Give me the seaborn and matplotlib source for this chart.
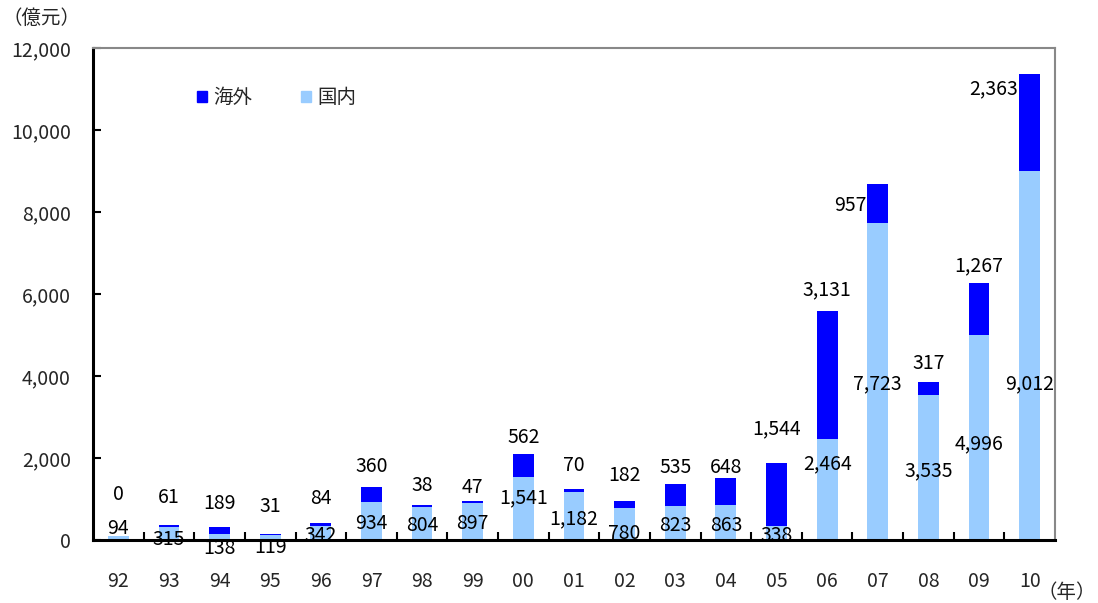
import pandas as pd
import seaborn as sns
import matplotlib.pyplot as plt
from matplotlib.patches import Patch

# データ
years = ["92", "93", "94", "95", "96", "97", "98", "99", "00", "01",
         "02", "03", "04", "05", "06", "07", "08", "09", "10"]
domestic = [94, 315, 138, 119, 342, 934, 804, 897, 1541, 1182,
            780, 823, 863, 338, 2464, 7723, 3535, 4996, 9012]
overseas = [0, 61, 189, 31, 84, 360, 38, 47, 562, 70,
            182, 535, 648, 1544, 3131, 957, 317, 1267, 2363]

# ラベル位置（データ単位、元図の手動配置に合わせる）
label_y_dom = [281, 0, -207, -183, 110, 403, 354, 403, 1037, 525,
               159, 354, 354, 110, 1867, 3819, 1696, 2355, 3819]
label_y_ovs = [1110, 1037, 890, 817, 1012, 1793, 1330, 1281, 2501, 1818,
               1574, 1769, 1769, 2721, 6113, 8163, 4307, 6698, 11016]
left_of_bar = {"07", "10"}

df = pd.DataFrame({"year": years, "domestic": domestic, "overseas": overseas})
df["total"] = df["domestic"] + df["overseas"]

c_ovs = "#0000FF"
c_dom = "#99CCFF"

sns.set_theme(style="white")
plt.rcParams["font.family"] = ["Noto Sans CJK JP", "DejaVu Sans"]

fig = plt.figure(figsize=(10.98, 6.03), dpi=100)
ax = fig.add_axes([0.0847, 0.1045, 0.8761, 0.8159])

bw = 0.41
sns.barplot(data=df, x="year", y="total", order=years, color=c_ovs,
            saturation=1, width=bw, errorbar=None, linewidth=0, ax=ax)
sns.barplot(data=df, x="year", y="domestic", order=years, color=c_dom,
            saturation=1, width=bw, errorbar=None, linewidth=0, ax=ax)

fs = 14
for i, yr in enumerate(years):
    ax.text(i, label_y_dom[i], f"{domestic[i]:,}", ha="center", va="center",
            fontsize=fs, color="black")
    if yr in left_of_bar:
        ax.text(i - bw / 2 - 0.02, label_y_ovs[i], f"{overseas[i]:,}",
                ha="right", va="center", fontsize=fs, color="black")
    else:
        ax.text(i, label_y_ovs[i], f"{overseas[i]:,}", ha="center",
                va="center", fontsize=fs, color="black")

ax.set_xlim(-0.5, len(years) - 0.5)
ax.set_ylim(0, 12000)
ax.set_yticks(range(0, 12001, 2000))
ax.set_yticklabels([f"{v:,}" for v in range(0, 12001, 2000)], fontsize=fs)
ax.set_xlabel("")
ax.set_ylabel("")

ax.tick_params(axis="y", direction="in", length=6, width=1.5, color="black",
               left=True, pad=16)
ax.tick_params(axis="x", which="major", length=0, pad=22, labelsize=fs)
ax.set_xticks([i + 0.5 for i in range(len(years) - 1)], minor=True)
ax.tick_params(axis="x", which="minor", direction="in", length=6, width=1.5,
               color="black", bottom=True)

for s in ["left", "bottom"]:
    ax.spines[s].set_color("black")
    ax.spines[s].set_linewidth(2.2)
for s in ["top", "right"]:
    ax.spines[s].set_color("#888888")
    ax.spines[s].set_linewidth(1.5)

handles = [Patch(color=c_ovs, label="海外"), Patch(color=c_dom, label="国内")]
ax.legend(handles=handles, loc="upper left", bbox_to_anchor=(0.108, 0.92),
          ncol=2, frameon=False, fontsize=fs, handlelength=0.5,
          handleheight=0.5, handletextpad=0.35, columnspacing=2.5,
          borderaxespad=0, borderpad=0)

fig.text(3 / 1098, 1 - 18 / 603, "（億元）", ha="left", va="center", fontsize=fs)
fig.text(1096 / 1098, 1 - 593 / 603, "（年）", ha="right", va="center", fontsize=fs)

fig.savefig("out.png", dpi=100)
